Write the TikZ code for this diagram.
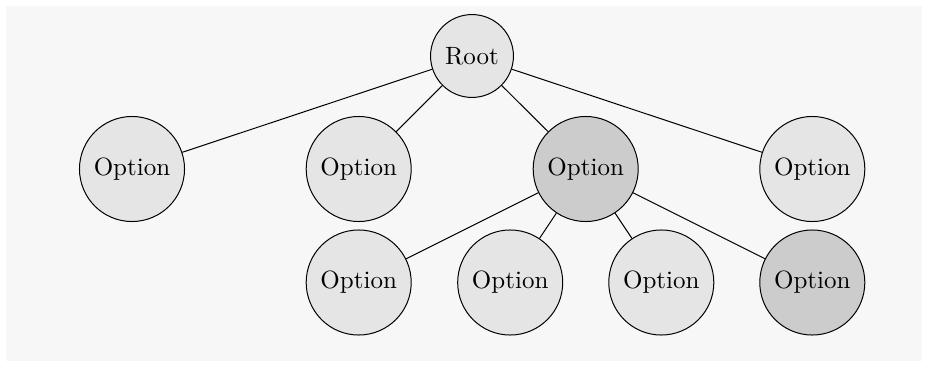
\documentclass[tikz,border=0pt]{standalone}
\begin{document}
\begin{tikzpicture}[x=0.4pt,y=-0.4pt,
  lightnode/.style={circle,draw,fill=black!10,inner sep=4pt,line width=0.4pt},
  darknode/.style={circle,draw,fill=black!20,inner sep=4pt,line width=0.4pt},
  edge/.style={line width=0.4pt}]
\useasboundingbox (0,0) rectangle (928,367);
\fill[black!3] (6,6) rectangle (922,361);
\node[lightnode] (root) at (472,56) {Root};
\node[lightnode] (a) at (132,169) {Option};
\node[lightnode] (b) at (358.7,169) {Option};
\node[darknode] (c) at (585.7,169) {Option};
\node[lightnode] (d) at (812.3,169) {Option};
\node[lightnode] (c1) at (358.7,282.5) {Option};
\node[lightnode] (c2) at (510.2,282.5) {Option};
\node[lightnode] (c3) at (661.3,282.5) {Option};
\node[darknode] (c4) at (812.3,282.5) {Option};
\foreach \t in {a,b,c,d} \draw[edge] (root) -- (\t);
\foreach \t in {c1,c2,c3,c4} \draw[edge] (c) -- (\t);
\end{tikzpicture}
\end{document}
